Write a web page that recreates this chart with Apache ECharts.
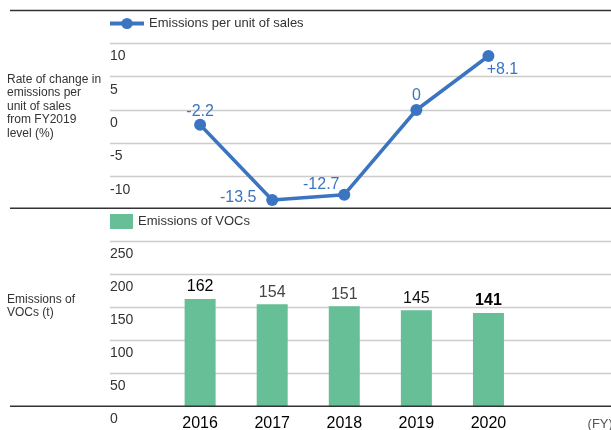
<!DOCTYPE html>
<html>
<head>
<meta charset="utf-8">
<script src="https://cdn.jsdelivr.net/npm/echarts@6/dist/echarts.min.js"></script>
<style>
  html, body { margin: 0; padding: 0; background: #fff; }
  #chart { width: 611px; height: 430px; }
</style>
</head>
<body>
<div id="chart"></div>
<script>
// data
const years = [2016, 2017, 2018, 2019, 2020];
const rateChange = [-2.2, -13.5, -12.7, 0, 8.1];
const rateLabels = ['-2.2', '-13.5', '-12.7', '0', '+8.1'];
const vocEmissions = [162, 154, 151, 145, 141];
const rateTicks = [-10, -5, 0, 5, 10];
const vocTicks = [0, 50, 100, 150, 200, 250];

const FONT = '"Liberation Sans", Arial, sans-serif';
const BLUE = '#3b74c0';
const GREEN = '#66bf96';

// label placement around each line point (dx, dy)
const lineLabelOffset = [[0, -13], [-34, -2], [-23, -10], [0, -14], [14, 14]];
// per-bar label look
const barLabelLook = [
    { color: '#000' },
    { color: '#444' },
    { color: '#444' },
    { color: '#111' },
    { color: '#000', fontWeight: 'bold' }
];

const xMin = 2014.75, xMax = 2021.7;

const chart = echarts.init(document.getElementById('chart'));

const option = {
    animation: false,
    textStyle: { fontFamily: FONT },
    title: [
        {
            text: 'Rate of change in\nemissions per\nunit of sales\nfrom FY2019\nlevel (%)',
            left: 7, top: 73, padding: 0,
            textStyle: { fontSize: 12, fontWeight: 'normal', color: '#333', lineHeight: 13.4, fontFamily: FONT }
        },
        {
            text: 'Emissions of\nVOCs (t)',
            left: 7, top: 293, padding: 0,
            textStyle: { fontSize: 12, fontWeight: 'normal', color: '#333', lineHeight: 13.4, fontFamily: FONT }
        }
    ],
    legend: [
        {
            data: ['Emissions per unit of sales'],
            left: 108, top: 17, padding: 0,
            itemWidth: 34, itemHeight: 14, itemGap: 5,
            lineStyle: { width: 4 },
            textStyle: { fontSize: 13, color: '#333', fontFamily: FONT }
        },
        {
            data: ['Emissions of VOCs'],
            left: 110, top: 214, padding: 0,
            icon: 'rect', itemWidth: 23, itemHeight: 15,
            textStyle: { fontSize: 13, color: '#333', fontFamily: FONT }
        }
    ],
    grid: [
        { left: 110, right: 0, top: 10, bottom: 220, outerBoundsMode: 'none', containLabel: false },
        { left: 110, right: 0, top: 208, bottom: 24, outerBoundsMode: 'none', containLabel: false }
    ],
    xAxis: [
        { type: 'value', gridIndex: 0, min: xMin, max: xMax, show: false },
        {
            type: 'value', gridIndex: 1, min: xMin, max: xMax,
            axisLine: { show: false }, axisTick: { show: false }, splitLine: { show: false },
            axisLabel: {
                customValues: years.concat([2021.55]),
                margin: 10,
                formatter: v => (years.indexOf(v) >= 0 ? String(v) : '{fy|(FY)}'),
                fontSize: 16, color: '#000', fontFamily: FONT,
                rich: { fy: { fontSize: 13, color: '#555', fontFamily: FONT, padding: [2, 0, 0, 0] } }
            }
        }
    ],
    yAxis: [
        {
            type: 'value', gridIndex: 0, min: -15, max: 15, interval: 5,
            axisLine: { show: false }, axisTick: { show: false },
            splitLine: { showMinLine: false, showMaxLine: false, lineStyle: { color: '#cccccc', width: 1.3 } },
            axisLabel: {
                inside: true, margin: 0, align: 'left', verticalAlign: 'top', padding: [6, 0, 0, 0],
                fontSize: 14, color: '#333', fontFamily: FONT,
                formatter: v => (rateTicks.indexOf(v) >= 0 ? String(v) : '')
            }
        },
        {
            type: 'value', gridIndex: 1, min: 0, max: 300, interval: 50,
            axisLine: { show: false }, axisTick: { show: false },
            splitLine: { showMinLine: false, showMaxLine: false, lineStyle: { color: '#cccccc', width: 1.3 } },
            axisLabel: {
                inside: true, margin: 0, align: 'left', verticalAlign: 'top', padding: [6, 0, 0, 0],
                fontSize: 14, color: '#333', fontFamily: FONT,
                formatter: v => (vocTicks.indexOf(v) >= 0 ? String(v) : '')
            }
        }
    ],
    series: [
        {
            name: 'Emissions per unit of sales',
            type: 'line',
            xAxisIndex: 0, yAxisIndex: 0,
            data: years.map((y, i) => ({
                value: [y, rateChange[i]],
                label: { offset: lineLabelOffset[i] }
            })),
            symbol: 'circle', symbolSize: 12,
            lineStyle: { color: BLUE, width: 3.5 },
            itemStyle: { color: BLUE },
            label: {
                show: true, position: 'inside',
                fontSize: 16, color: BLUE, fontFamily: FONT,
                formatter: p => rateLabels[p.dataIndex]
            },
            z: 5
        },
        {
            name: 'Emissions of VOCs',
            type: 'bar',
            xAxisIndex: 1, yAxisIndex: 1,
            barWidth: 31,
            data: years.map((y, i) => ({
                value: [y, vocEmissions[i]],
                label: barLabelLook[i]
            })),
            itemStyle: { color: GREEN },
            label: {
                show: true, position: 'top', distance: 4,
                fontSize: 16, fontFamily: FONT,
                formatter: p => String(vocEmissions[p.dataIndex])
            }
        }
    ],
    graphic: [
        { type: 'line', z: 100, shape: { x1: 10, y1: 10.5, x2: 611, y2: 10.5 }, style: { stroke: '#333', lineWidth: 1.6 } },
        { type: 'line', z: 100, shape: { x1: 10, y1: 208.3, x2: 611, y2: 208.3 }, style: { stroke: '#333', lineWidth: 1.6 } },
        { type: 'line', z: 100, shape: { x1: 10, y1: 406.3, x2: 611, y2: 406.3 }, style: { stroke: '#333', lineWidth: 1.6 } }
    ]
};

chart.setOption(option);
</script>
</body>
</html>
